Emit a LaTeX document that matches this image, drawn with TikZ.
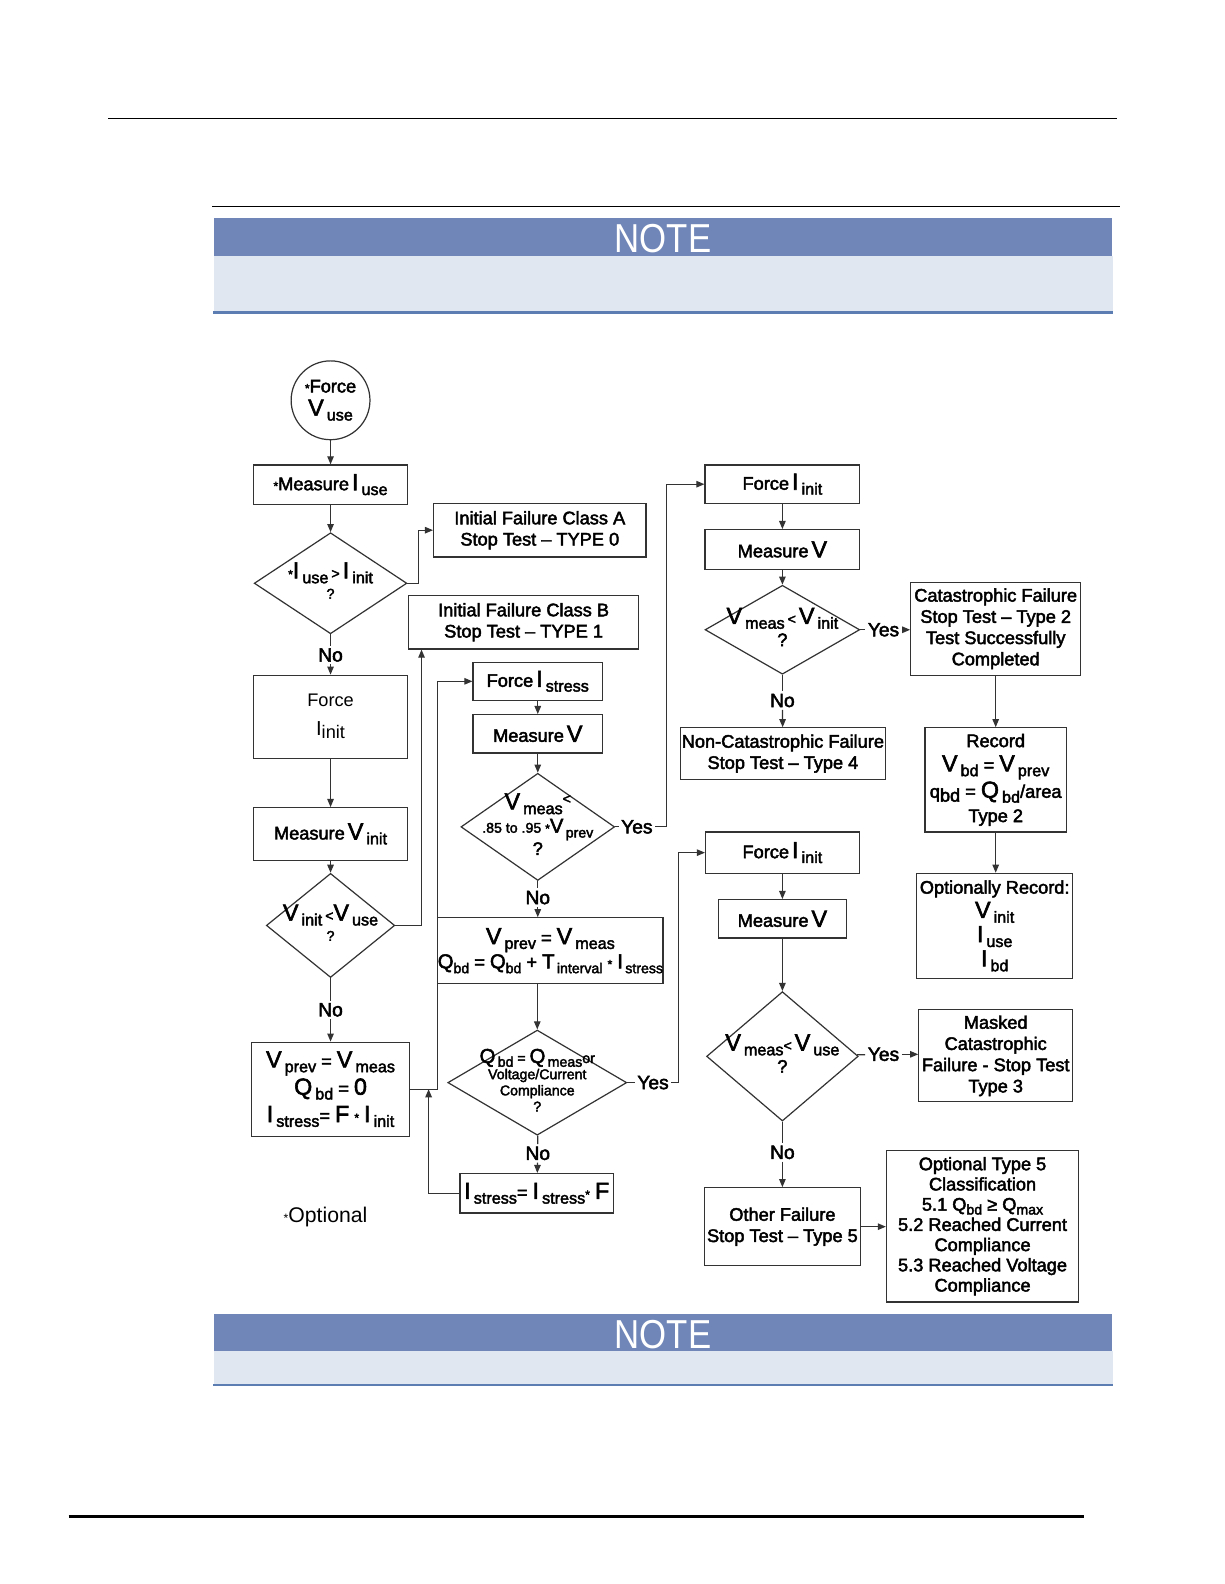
\documentclass[tikz,border=0pt]{standalone}
\usepackage{fontspec}
\setmainfont{Liberation Sans}
\newfontfamily\notefont{Liberation Sans}[FakeStretch=0.86]
\newfontfamily\boxfont{Liberation Sans}[FakeBold=2.5]
\usetikzlibrary{shapes.geometric,arrows.meta}
\definecolor{notedark}{RGB}{112,134,184}
\definecolor{notelight}{RGB}{225,231,241}
\definecolor{noteline}{RGB}{91,125,177}
\newcommand\qsub[2]{{\fontsize{11.5}{12}\selectfont #1}\,\raisebox{-0.5ex}{\fontsize{8}{9}\selectfont #2}}
\newcommand\qsubx[2]{{\fontsize{10}{11}\selectfont #1}\raisebox{-0.5ex}{\fontsize{7}{8}\selectfont #2}}
\newcommand\qbig[1]{{\fontsize{11.5}{12}\selectfont #1}}
\newcommand\optmark{{\fontsize{6}{6}\selectfont *}}
\newcommand\dtext[1]{\makebox[0pt]{\begin{tabular}{@{}c@{}}#1\end{tabular}}}
\begin{document}
\begin{tikzpicture}[x=0.5pt,y=-0.5pt,line width=0.6pt,
    box/.style={draw=black!80,rectangle,inner sep=0pt,align=center,
      font={\boxfont\fontsize{9}{10.5}\selectfont}},
    dia/.style={draw=black!80,diamond,inner sep=0pt,
      font={\boxfont\fontsize{9}{9}\selectfont}},
    lbl/.style={inner sep=1pt,font={\boxfont\fontsize{9.5}{10}\selectfont}},
    arr/.style={-{Triangle[length=4pt,width=3.2pt]}}]
  \useasboundingbox (0,0) rectangle (1211,1567);
  \draw (107,117) -- (1105,117);
  \draw (210,204) -- (1108,204);
  \draw[line width=1.2pt] (68,1500) -- (1072,1500);
  \fill[notedark] (212,216) rectangle (1100,253);
  \fill[notelight] (212,253) rectangle (1101,308);
  \draw[noteline,line width=1.2pt] (211,309) -- (1101,309);
  \node[text=white,font={\notefont\fontsize{20}{20}\selectfont}] (note1) at (656,236) {NOTE};
  \fill[notedark] (212,1300) rectangle (1100,1336);
  \fill[notelight] (212,1336) rectangle (1101,1369);
  \draw[noteline,line width=1.2pt] (211,1370) -- (1101,1370);
  \node[text=white,font={\notefont\fontsize{20}{20}\selectfont}] (note2) at (656,1320) {NOTE};

  \node[box,circle,minimum size=39pt] (fv) at (327,396) {\optmark Force\\[1pt]\qsub{V}{use}};
  \node[box,minimum width=76pt,minimum height=19.5pt] (mi) at (327,479.5) {\optmark Measure\,\qsub{I}{use}};
  \node[dia,minimum width=75.5pt,minimum height=50pt] (cu) at (327,577)
    {\dtext{\optmark\qsub{I}{use}\,{\fontsize{7}{7}\selectfont >}\,\qsub{I}{init}\\[1pt]{\fontsize{7}{8}\selectfont ?}}};
  \node[lbl] (no1) at (327,648) {No};
  \node[box,minimum width=76pt,minimum height=41pt,font={\fontsize{9}{11}\selectfont}] (fi) at (327,709)
    {Force\\[3pt]{\fontsize{10}{11}\selectfont I}\raisebox{-0.4ex}{init}};
  \node[box,minimum width=76pt,minimum height=26pt] (mvi) at (327,825) {Measure\,\qsub{V}{init}};
  \node[dia,minimum width=63.5pt,minimum height=51.5pt] (cv) at (327,915.5)
    {\dtext{\qsub{V}{init}\,{\fontsize{7}{7}\selectfont <}\qsub{V}{use}\\[1pt]{\fontsize{7}{8}\selectfont ?}}};
  \node[lbl] (no2) at (327,999) {No};
  \node[box,minimum width=78pt,minimum height=46.5pt,font={\boxfont\fontsize{9}{13.5}\selectfont}] (setq) at (327,1077.5)
    {\qsub{V}{prev} = \qsub{V}{meas}\\\qsub{Q}{bd} = \qbig{0}\\\qsub{I}{stress}= \qbig{F} \optmark\ \qsub{I}{init}};
  \node[font={\fontsize{10.5}{12}\selectfont}] (optnote) at (322,1204) {\optmark Optional};

  \node[box,minimum width=105pt,minimum height=26.5pt] (ta) at (534,524.5) {Initial Failure Class A\\Stop Test – TYPE 0};
  \node[box,minimum width=114pt,minimum height=26.5pt] (tb) at (518,615.5) {Initial Failure Class B\\Stop Test – TYPE 1};
  \node[box,minimum width=64pt,minimum height=19pt] (fs) at (532,674) {Force\,\qsub{I}{stress}};
  \node[box,minimum width=64pt,minimum height=19pt] (mv) at (532,726) {Measure\,\qbig{V}};
  \node[dia,minimum width=76pt,minimum height=53pt] (cr) at (532,818)
    {\dtext{\qsub{V}{meas}\raisebox{0.6ex}{\fontsize{7}{7}\selectfont <}\\[2pt]{\fontsize{7}{8}\selectfont .85 to .95 \optmark}\qsubx{V}{\,prev}\\[2pt]?}};
  \node[lbl] (yes1) at (630,818) {Yes};
  \node[lbl] (no3) at (532,888) {No};
  \node[box,minimum width=102.5pt,minimum height=32.5pt,font={\boxfont\fontsize{9}{13}\selectfont}] (acc) at (544.5,940.5)
    {\qsub{V}{prev} = \qsub{V}{meas}\\[-1pt]\qsubx{Q}{bd} = \qsubx{Q}{bd} + \qsubx{T}{\,interval} \optmark\ \qsubx{I}{\,stress}};
  \node[dia,minimum width=88.5pt,minimum height=52pt,font={\boxfont\fontsize{7}{8}\selectfont}] (cq) at (531.5,1071)
    {\dtext{\qsubx{Q}{\,bd} = \qsubx{Q}{\,meas}or\\Voltage/Current\\Compliance\\?}};
  \node[lbl] (yes2) at (646,1071) {Yes};
  \node[lbl] (no4) at (532,1141) {No};
  \node[box,minimum width=76pt,minimum height=19.5pt] (sc) at (531,1180.5) {\qsub{I}{stress}= \qsub{I}{stress}\optmark\ \qbig{F}};

  \node[box,minimum width=76.5pt,minimum height=19pt] (fi2) at (774,479) {Force\,\qsub{I}{init}};
  \node[box,minimum width=76.5pt,minimum height=19.5pt] (mv2) at (774,543.5) {Measure\,\qbig{V}};
  \node[dia,minimum width=76.5pt,minimum height=44pt] (cm) at (774,623)
    {\dtext{\qsub{V}{meas}\,{\fontsize{7}{7}\selectfont <}\,\qsub{V}{init}\\[2pt]?}};
  \node[lbl] (yes3) at (874,623) {Yes};
  \node[lbl] (no5) at (774,693) {No};
  \node[box,minimum width=101.5pt,minimum height=25.5pt] (t4) at (774.5,745.5) {Non-Catastrophic Failure\\Stop Test – Type 4};
  \node[box,minimum width=84pt,minimum height=46pt] (t2) at (985,622)
    {Catastrophic Failure\\Stop Test – Type 2\\Test Successfully\\Completed};
  \node[box,minimum width=70pt,minimum height=51.5pt,font={\boxfont\fontsize{9}{12}\selectfont}] (rec) at (985,771.5)
    {Record\\\qsub{V}{bd} = \qsub{V}{prev}\\q\raisebox{-0.4ex}{bd} = \qsub{Q}{bd}/area\\Type 2};
  \node[box,minimum width=77pt,minimum height=52pt,font={\boxfont\fontsize{9}{12}\selectfont}] (orec) at (984,916)
    {Optionally Record:\\\qsub{V}{init}\\\qsub{I}{use}\\\qsub{I}{bd}};
  \node[box,minimum width=76pt,minimum height=20.5pt] (fi3) at (774,843.5) {Force\,\qsub{I}{init}};
  \node[box,minimum width=63.5pt,minimum height=19pt] (mv3) at (774,909) {Measure\,\qbig{V}};
  \node[dia,minimum width=75pt,minimum height=64pt] (cw) at (774,1045)
    {\dtext{\qsub{V}{meas}{\fontsize{7}{7}\selectfont <}\,\qsub{V}{use}\\[2pt]?}};
  \node[lbl] (yes4) at (874,1043) {Yes};
  \node[lbl] (no6) at (774,1140) {No};
  \node[box,minimum width=76pt,minimum height=45.5pt] (t3) at (985,1044.5)
    {Masked\\Catastrophic\\Failure - Stop Test\\Type 3};
  \node[box,minimum width=77pt,minimum height=38.5pt] (t5) at (774,1213.5) {Other Failure\\Stop Test – Type 5};
  \node[box,minimum width=95pt,minimum height=75pt,font={\boxfont\fontsize{9}{10}\selectfont}] (c5) at (972,1213)
    {Optional Type 5\\Classification\\5.1 Q\raisebox{-0.4ex}{\fontsize{7}{7}\selectfont bd} ≥ Q\raisebox{-0.4ex}{\fontsize{7}{7}\selectfont max}\\5.2 Reached Current\\Compliance\\5.3 Reached Voltage\\Compliance};

  \coordinate (k1) at (414,577);
  \coordinate (k2) at (417,915.5);
  \coordinate (k3) at (433,1077.5);
  \coordinate (k4) at (659,818);
  \coordinate (k5) at (671,1071);
  \coordinate (k6) at (424,1180.5);
  \begin{scope}[draw=black!80]
    \draw[arr] (fv) to (mi);
    \draw[arr] (mi) to (cu);
    \draw[arr] (cu) -- (k1) |- (ta);
    \draw (cu) to (no1);
    \draw[arr] (no1) to (fi);
    \draw[arr] (fi) to (mvi);
    \draw[arr] (mvi) to (cv);
    \draw[arr] (cv) -- (k2) -- (k2 |- tb.south);
    \draw (cv) to (no2);
    \draw[arr] (no2) to (setq);
    \draw[arr] (setq) -- (k3) |- (fs);
    \draw[arr] (fs) to (mv);
    \draw[arr] (mv) to (cr);
    \draw (cr) to (yes1);
    \draw[arr] (yes1) -- (k4) |- (fi2);
    \draw (cr) to (no3);
    \draw[arr] (no3) -- (no3 |- acc.north);
    \draw[arr] (acc.south -| cq.north) -- (cq.north);
    \draw (cq) to (yes2);
    \draw[arr] (yes2) -- (k5) |- (fi3);
    \draw (cq) to (no4);
    \draw[arr] (no4) to (sc);
    \draw[arr] (sc) -- (k6) -- (k6 |- setq.east);
    \draw[arr] (fi2) to (mv2);
    \draw[arr] (mv2) to (cm);
    \draw (cm) to (yes3);
    \draw[arr] (yes3) -- (yes3 -| t2.west);
    \draw (cm) to (no5);
    \draw[arr] (no5) to (t4);
    \draw[arr] (t2) to (rec);
    \draw[arr] (rec.south) -- (rec.south |- orec.north);
    \draw[arr] (fi3) to (mv3);
    \draw[arr] (mv3) to (cw);
    \draw (cw) to (yes4);
    \draw[arr] (yes4) -- (yes4 -| t3.west);
    \draw (cw) to (no6);
    \draw[arr] (no6) to (t5);
    \draw[arr] (t5) -- (t5 -| c5.west);
  \end{scope}
\end{tikzpicture}
\end{document}
